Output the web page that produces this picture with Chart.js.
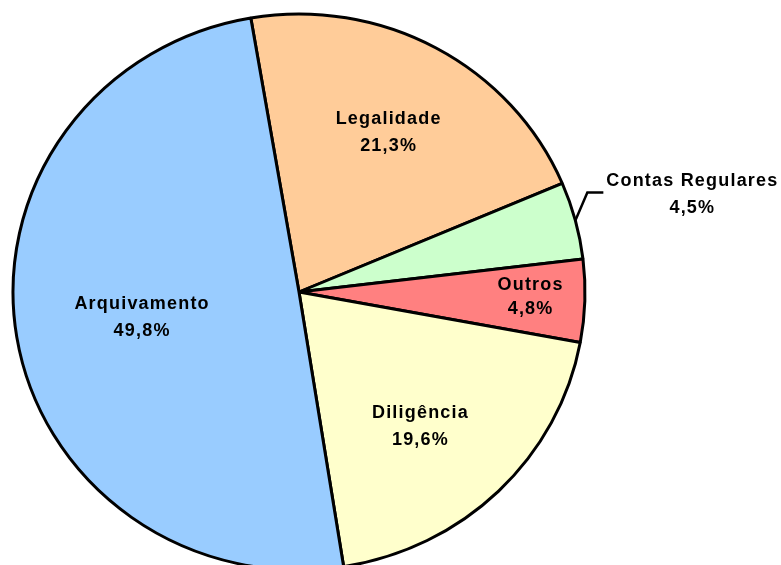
<!DOCTYPE html>
<html>
<head>
<meta charset="utf-8">
<script src="https://cdn.jsdelivr.net/npm/chart.js@4.4.0/dist/chart.umd.min.js"></script>
<style>
    body { margin: 0; background: #fff; }
    #wrap { width: 781px; height: 565px; }
</style>
</head>
<body>
<div id="wrap"><canvas id="pieChart" width="781" height="565"></canvas></div>
<script>
// dados do gráfico
const categorias = ['Legalidade', 'Contas Regulares', 'Outros', 'Diligência', 'Arquivamento'];
const valores = [21.3, 4.5, 4.8, 19.6, 49.8];
const cores = ['#FFCC99', '#CCFFCC', '#FF8080', '#FFFFCC', '#99CCFF'];

// o círculo original é levemente achatado na vertical
const escalaY = 0.972;
// distância dos rótulos internos (fração do raio) e desvio angular (graus)
const posRotulo = [0.654, null, 0.81, 0.644, 0.556];
const desvioRotulo = [0, 0, -0.5, 3, 0];

function fmt(v) {
    return v.toFixed(1).replace('.', ',') + '%';
}

const achatar = {
    id: 'achatar',
    beforeDatasetsDraw(chart) {
        const arc = chart.getDatasetMeta(0).data[0];
        const ctx = chart.ctx;
        ctx.save();
        ctx.translate(arc.x, arc.y);
        ctx.scale(1, escalaY);
        ctx.translate(-arc.x, -arc.y);
    },
    afterDatasetsDraw(chart) {
        chart.ctx.restore();
    }
};

const rotulos = {
    id: 'rotulos',
    afterDraw(chart) {
        const ctx = chart.ctx;
        const meta = chart.getDatasetMeta(0);
        ctx.save();
        ctx.font = 'bold 18px "Liberation Sans", Arial, sans-serif';
        ctx.letterSpacing = '1.2px';
        ctx.fillStyle = '#000';
        ctx.textAlign = 'center';
        ctx.textBaseline = 'middle';
        meta.data.forEach((arc, i) => {
            const meio = (arc.startAngle + arc.endAngle) / 2 + desvioRotulo[i] * Math.PI / 180;
            const r = arc.outerRadius;
            const cx = arc.x, cy = arc.y;
            if (posRotulo[i] !== null) {
                const x = cx + Math.cos(meio) * r * posRotulo[i];
                const y = cy + Math.sin(meio) * r * posRotulo[i] * escalaY;
                const gap = categorias[i] === 'Outros' ? 12 : 13.5;
                ctx.fillText(categorias[i], x, y - gap);
                ctx.fillText(fmt(valores[i]), x, y + gap);
            } else {
                // rótulo externo com linha de chamada
                const x0 = cx + Math.cos(meio) * r;
                const y0 = cy + Math.sin(meio) * r * escalaY;
                const x1 = x0 + 12, y1 = y0 - 28;
                const x2 = x1 + 16;
                ctx.strokeStyle = '#000';
                ctx.lineWidth = 2.5;
                ctx.beginPath();
                ctx.moveTo(x0, y0);
                ctx.lineTo(x1, y1);
                ctx.lineTo(x2, y1);
                ctx.stroke();
                const tx = x2 + 89;
                ctx.fillText(categorias[i], tx, y1 - 11);
                ctx.fillText(fmt(valores[i]), tx, y1 + 16);
            }
        });
        ctx.restore();
    }
};

const ctx = document.getElementById('pieChart').getContext('2d');
new Chart(ctx, {
    type: 'pie',
    data: {
        labels: categorias,
        datasets: [{
            data: valores,
            backgroundColor: cores,
            borderColor: '#000',
            borderWidth: 3,
            radius: 286
        }]
    },
    options: {
        responsive: false,
        animation: false,
        events: [],
        rotation: -9.7,
        layout: {
            padding: { left: 0, right: 183, top: 19, bottom: 0 }
        },
        plugins: {
            legend: { display: false },
            tooltip: { enabled: false }
        }
    },
    plugins: [achatar, rotulos]
});
</script>
</body>
</html>
